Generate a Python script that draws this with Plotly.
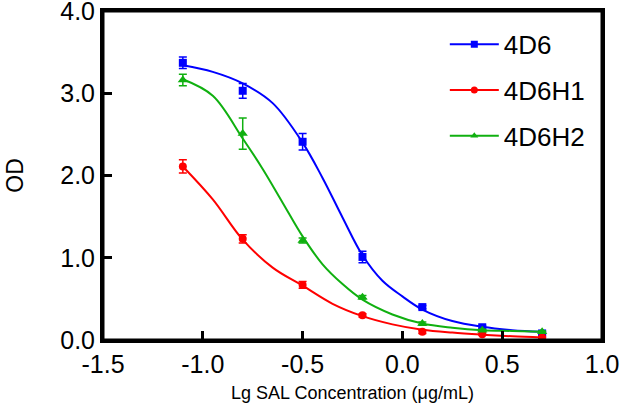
import plotly.graph_objects as go

# ---- data ----
conc = [-1.1, -0.8, -0.5, -0.2, 0.1, 0.4, 0.7]

od_4d6 = [3.37, 3.03, 2.41, 1.01, 0.40, 0.155, 0.08]
err_4d6 = [0.07, 0.09, 0.10, 0.07, 0.02, 0.02, 0.02]

od_4d6h1 = [2.11, 1.23, 0.67, 0.30, 0.10, 0.07, 0.03]
err_4d6h1 = [0.08, 0.05, 0.04, 0.02, 0.02, 0.01, 0.01]

od_4d6h2 = [3.16, 2.51, 1.21, 0.52, 0.20, 0.12, 0.10]
err_4d6h2 = [0.07, 0.19, 0.03, 0.02, 0.02, 0.01, 0.01]

# fitted curves
fit_x_4d6 = [-1.1, -0.95, -0.8, -0.65, -0.5, -0.4, -0.3, -0.2, -0.1, 0.0, 0.1, 0.25, 0.4, 0.55, 0.7]
fit_y_4d6 = [3.34, 3.26, 3.12, 2.88, 2.40, 1.97, 1.49, 1.03, 0.72, 0.53, 0.37, 0.23, 0.16, 0.12, 0.10]

fit_x_4d6h1 = [-1.1, -0.95, -0.8, -0.65, -0.5, -0.35, -0.2, -0.05, 0.1, 0.25, 0.4, 0.55, 0.7]
fit_y_4d6h1 = [2.11, 1.71, 1.22, 0.88, 0.66, 0.44, 0.29, 0.19, 0.125, 0.09, 0.065, 0.045, 0.03]

fit_x_4d6h2 = [-1.1, -0.95, -0.8, -0.7, -0.6, -0.5, -0.4, -0.3, -0.2, -0.05, 0.1, 0.25, 0.4, 0.55, 0.7]
fit_y_4d6h2 = [3.17, 2.97, 2.45, 2.08, 1.67, 1.26, 0.92, 0.68, 0.49, 0.31, 0.20, 0.15, 0.12, 0.11, 0.10]

x_ticks = [-1.5, -1.0, -0.5, 0.0, 0.5, 1.0]
x_tick_text = ["-1.5", "-1.0", "-0.5", "0.0", "0.5", "1.0"]
y_ticks = [0, 1, 2, 3, 4]
y_tick_text = ["0.0", "1.0", "2.0", "3.0", "4.0"]

series = [
    ("4D6", od_4d6, err_4d6, fit_x_4d6, fit_y_4d6, "#0000FF", "square", 8),
    ("4D6H1", od_4d6h1, err_4d6h1, fit_x_4d6h1, fit_y_4d6h1, "#FF0000", "circle", 8),
    ("4D6H2", od_4d6h2, err_4d6h2, fit_x_4d6h2, fit_y_4d6h2, "#10B010", "triangle-up", 9),
]

FONT = "Liberation Sans, Arial, sans-serif"

fig = go.Figure()
for name, ys, es, fx, fy, col, sym, sz in series:
    fig.add_trace(go.Scatter(
        x=fx, y=fy, mode="lines", line=dict(color=col, width=2, shape="spline", smoothing=1.0),
        showlegend=False, legendgroup=name, hoverinfo="skip"))
    fig.add_trace(go.Scatter(
        x=conc, y=ys, mode="markers", name=name, legendgroup=name,
        marker=dict(color=col, symbol=sym, size=sz, line=dict(width=0)),
        error_y=dict(type="data", array=es, visible=True, color=col, thickness=1.5, width=4),
        showlegend=False))
    # legend entry: line + marker
    fig.add_trace(go.Scatter(
        x=[None], y=[None], mode="lines+markers", name=name, legendgroup=name,
        line=dict(color=col, width=2),
        marker=dict(color=col, symbol=sym, size=7)))

axis_common = dict(
    showline=True, linecolor="black", linewidth=3, mirror=True,
    ticks="inside", ticklen=9, tickwidth=3, tickcolor="black",
    showgrid=False, zeroline=False, ticklabeloverflow="allow",
    tickfont=dict(family=FONT, size=25, color="black"),
)

fig.update_layout(
    width=624, height=405,
    margin=dict(l=103, r=22, t=11, b=65, autoexpand=False),
    paper_bgcolor="white", plot_bgcolor="white",
    font=dict(family=FONT, color="black"),
    xaxis=dict(range=[-1.5, 1.0], tickvals=x_ticks, ticktext=x_tick_text,
               title=dict(text="Lg SAL Concentration (μg/mL)", font=dict(family=FONT, size=18), standoff=10),
               **axis_common),
    yaxis=dict(range=[0, 4.0], tickvals=y_ticks, ticktext=y_tick_text,
               title=dict(text="OD", font=dict(family=FONT, size=23), standoff=31),
               **axis_common),
    legend=dict(x=0.685, y=0.97, xanchor="left", yanchor="top",
                font=dict(family=FONT, size=26, color="black"),
                bgcolor="rgba(0,0,0,0)", tracegroupgap=9, itemwidth=49),
    shapes=[dict(type="rect", xref="paper", yref="paper", x0=0, x1=1, y0=0, y1=1,
                 line=dict(color="black", width=3), fillcolor="rgba(0,0,0,0)", layer="above")],
)

fig.write_html("out.html", config={"displayModeBar": False},
               post_script="document.body.style.margin='0px';")
